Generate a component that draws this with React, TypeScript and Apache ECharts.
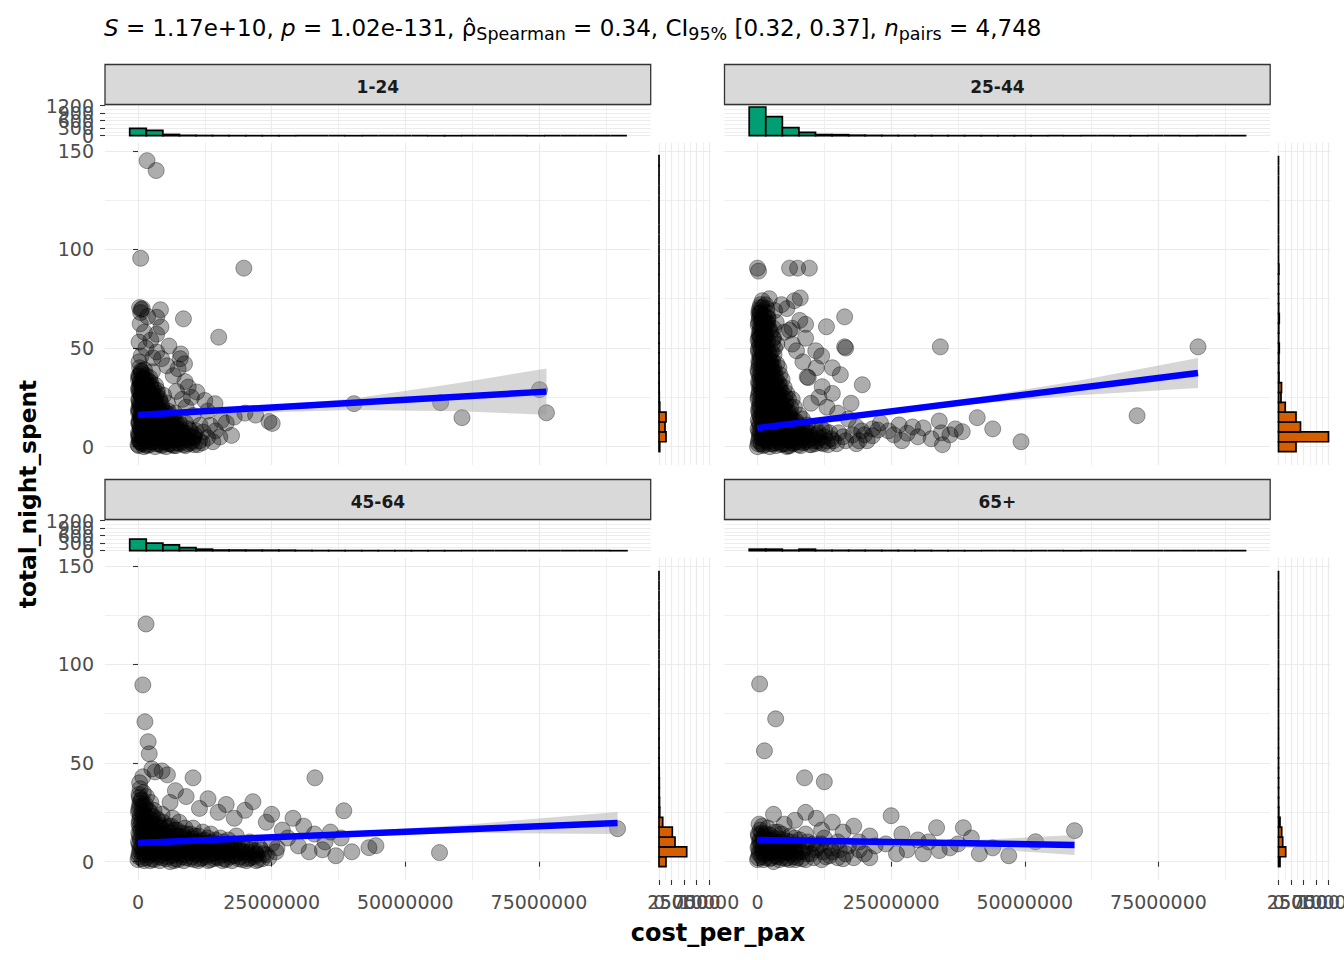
import React, { useEffect, useRef } from 'react';
import * as echarts from 'echarts';

// ---------------- data ----------------
const panelNames = ['1-24', '25-44', '45-64', '65+'];

const xMajor = [0, 25000000, 50000000, 75000000];
const xMinor = [12500000, 37500000, 62500000, 87500000];
const yMajor = [0, 50, 100, 150];
const yMinor = [25, 75, 125];
const xsideMajor = [0, 300, 600, 900, 1200];
const xsideMinor = [150, 450, 750, 1050];
const ysideMajor = [0, 2500, 5000, 7500, 10000];
const ysideMinor = [1250, 3750, 6250, 8750];

// histogram bins (cost in millions, nights in units)
const xBinStart = -1.55;
const xBinWidth = 3.1;
const yBinStart = -2.5;
const yBinWidth = 5;

// points: [cost_per_pax in millions, total_night_spent]
const pts124 = [
  [1.7, 145], [3.4, 140], [0.5, 95.5], [19.8, 90.5],
  [0.3, 70.5], [0.6, 69.5], [0.8, 70], [0.5, 68], [4.2, 69.4], [8.5, 64.8], [3.5, 65.6], [1.8, 66], [0.4, 62.3], [4.3, 60.7], [3.5, 57], [1.2, 58], [15.1, 55.5], [0.2, 53], [2.4, 54], [3.5, 48], [1.5, 50], [5.8, 51], [8, 47], [7.9, 44.6], [4.4, 44.6], [8.7, 42], [5.4, 41], [7.5, 39.5], [2.8, 45], [0.6, 46],
  [9.4, 30.2], [11, 27.7], [12.5, 23.4], [14.4, 21.8], [10.3, 15.8], [11.6, 10.8], [13.5, 10.8], [15.6, 13.3], [12.2, 7.4], [15.3, 4.9], [17.5, 5.7], [14.5, 8], [16.5, 12], [18, 15], [13, 18], [20, 17], [22, 16], [24.5, 12.8], [25.1, 11.8], [40.4, 21.8], [56.6, 22.3], [60.6, 14.7], [75.1, 28.9], [76.4, 17.2],
  [8.8, 33], [10, 25], [6.6, 36], [7.2, 28], [9, 20], [8.3, 24], [11.5, 3], [13, 4.5], [14, 2.5],
  [0, 1], [0.2, 4], [0.1, 7], [0.4, 10], [0.2, 13], [0.5, 16], [0.1, 19], [0.3, 22], [0.6, 25], [0.2, 28], [0.4, 31], [0.1, 34], [0.5, 37], [0.3, 40], [0.2, 43],
  [1.1, 0], [1.3, 3], [1.0, 6], [1.4, 9], [1.2, 12], [1.1, 15], [1.5, 18], [1.2, 21], [1.0, 24], [1.4, 27], [1.3, 30], [1.1, 33], [1.5, 36], [1.2, 39],
  [2.2, 1], [2.5, 4], [2.1, 7], [2.4, 10], [2.3, 13], [2.0, 16], [2.6, 19], [2.2, 22], [2.5, 25], [2.1, 28], [2.4, 31], [2.2, 35], [2.7, 38],
  [3.2, 0], [3.5, 3], [3.1, 6], [3.6, 9], [3.3, 12], [3.0, 15], [3.7, 18], [3.4, 21], [3.1, 24], [3.6, 27], [3.3, 31],
  [4.3, 1], [4.6, 4], [4.1, 7], [4.5, 10], [4.2, 13], [4.7, 16], [4.4, 20], [4.1, 23], [4.8, 26],
  [5.3, 0], [5.6, 3], [5.2, 6], [5.8, 9], [5.4, 12], [5.1, 15], [5.7, 18], [5.5, 22],
  [6.4, 1], [6.8, 4], [6.2, 7], [6.6, 10], [6.3, 14], [6.9, 17],
  [7.4, 2], [7.9, 5], [7.3, 8], [7.7, 12],
  [8.6, 1], [9.1, 4], [8.4, 7], [9.5, 9], [8.9, 12], [10.2, 3], [10.6, 6], [11.2, 1], [10.8, 8], [12, 2],
  [0.3, 2.5], [0.1, 5.5], [0.4, 8.5], [0.2, 11.5], [0.5, 14.5], [0.1, 17.5], [0.3, 20.5], [0.2, 23.5], [0.5, 26.5], [0.1, 29.5], [0.4, 32.5], [0.2, 35.5], [0.6, 38.5],
  [0.8, 1.5], [0.9, 4.5], [0.7, 7.5], [1.0, 10.5], [0.8, 13.5], [0.9, 16.5], [0.7, 19.5], [1.0, 22.5], [0.8, 25.5], [0.9, 28.5], [0.7, 31.5], [0.9, 34.5],
  [1.7, 0.5], [1.8, 3.5], [1.6, 6.5], [1.9, 9.5], [1.7, 12.5], [1.8, 15.5], [1.6, 18.5], [1.9, 21.5], [1.7, 24.5], [1.8, 27.5], [1.6, 30.5], [1.9, 33.5],
  [2.8, 2.5], [2.9, 5.5], [2.7, 8.5], [3.0, 11.5], [2.8, 14.5], [2.9, 17.5], [2.7, 20.5], [3.0, 23.5], [2.8, 26.5], [2.9, 29.5],
  [3.9, 1.5], [4.0, 4.5], [3.8, 7.5], [4.1, 10.5], [3.9, 13.5], [4.0, 16.5], [3.8, 19.5], [4.0, 24.5],
  [5.0, 2.5], [5.1, 5.5], [4.9, 8.5], [5.2, 11.5], [5.0, 14.5], [5.1, 17.5],
  [6.0, 1.5], [6.1, 4.5], [5.9, 7.5], [6.2, 10.5], [6.0, 13.5],
  [7.1, 0.5], [7.2, 3.5], [7.0, 6.5], [7.3, 9.5], [7.1, 12.5],
  [8.2, 2.5], [8.3, 5.5], [8.1, 8.5], [8.0, 11],
  [9.4, 1.5], [9.5, 5], [9.8, 8], [10.5, 1], [10.4, 4.5],
  [0.15, 0.5], [0.35, 3], [0.25, 6], [0.45, 9.5], [0.15, 12], [0.35, 15], [0.25, 18], [0.45, 21], [0.15, 24], [0.35, 27], [0.25, 30], [0.45, 33], [0.15, 36],
  [0.65, 2], [0.85, 5], [0.75, 8], [0.95, 11], [0.65, 14], [0.85, 17], [0.75, 20], [0.95, 23], [0.65, 26], [0.85, 29], [0.75, 32], [0.95, 35], [0.65, 38],
  [1.45, 1], [1.65, 4], [1.55, 7], [1.35, 10], [1.45, 13], [1.65, 16], [1.55, 19], [1.35, 22], [1.45, 25], [1.65, 28], [1.55, 31], [1.35, 34],
  [2.3, 2.5], [2.5, 5.5], [2.4, 8.5], [2.2, 11.5], [2.3, 14.5], [2.5, 17.5], [2.4, 20.5], [2.2, 23.5], [2.3, 26.5], [2.5, 29.5], [2.4, 32.5],
  [3.4, 1.5], [3.6, 4.5], [3.5, 7.5], [3.3, 10.5], [3.4, 13.5], [3.6, 16.5], [3.5, 19.5], [3.3, 22.5], [3.4, 25.5], [3.6, 28.5],
  [4.5, 0.5], [4.7, 2.5], [4.6, 5.5], [4.4, 8.5], [4.5, 11.5], [4.7, 14.5], [4.6, 17.5], [4.4, 21.5],
  [5.6, 1.5], [5.8, 4.5], [5.7, 7.5], [5.5, 10.5], [5.6, 13.5], [5.8, 16.5],
  [6.7, 0.5], [6.9, 3.5], [6.8, 6.5], [6.6, 9.5], [6.7, 12.5],
  [7.8, 1.5], [8.0, 4.5], [7.9, 7.5], [7.7, 10.5],
  [8.9, 0.5], [9.1, 3.5], [9.0, 6.5], [10, 2], [10.3, 5],
];

const pts2544 = [
  [0, 90.5], [6, 90.5], [7.5, 90.5], [9.7, 90.5], [0.2, 89],
  [2.2, 75], [8, 75.4], [4.5, 72], [1.5, 72], [5.5, 70], [6.9, 74], [3.2, 69],
  [12.9, 60.8], [16.3, 65.8], [0.5, 68], [2, 65], [3.5, 63], [6.5, 60], [9, 62], [1.9, 63], [7.9, 64], [6, 59], [3.6, 52],
  [7.3, 48.6], [10.9, 48.6], [12, 46], [16.3, 50.6], [16.5, 50], [34.2, 50.6], [82.4, 50.6],
  [15.5, 36.5], [19.6, 31.4], [12.1, 30.4], [9.5, 35], [11, 40], [8.5, 43], [14, 40], [6.5, 52], [9, 55], [3, 55], [5, 58], [1, 60], [0.5, 56], [2.5, 58], [9.3, 35.3],
  [71, 15.7], [49.3, 2.5], [41.1, 14.7], [38.3, 7.6], [34.6, 1], [34.4, 7], [34, 13], [31, 9.5], [28, 6.8], [25.5, 6], [22.5, 8.4], [20, 6], [21.5, 9], [24.5, 8], [26.5, 11], [30, 5], [32.5, 4], [36, 6], [37, 9], [29, 10], [23, 12], [18.5, 10], [17, 14], [19, 3], [16, 5], [27, 3], [44, 9],
  [13, 20], [15, 17], [17.5, 22], [11.5, 25], [14, 27], [10, 22],
  [0, 0], [0.2, 3], [0.4, 6], [0.1, 9], [0.3, 12], [0.5, 15], [0.2, 18], [0.4, 21], [0.1, 24], [0.3, 27], [0.5, 30], [0.2, 33], [0.4, 36], [0.1, 39], [0.3, 42], [0.5, 45], [0.2, 48], [0.4, 51], [0.1, 54], [0.3, 57], [0.5, 60], [0.2, 63], [0.4, 66],
  [1.2, 1], [1.4, 4], [1.1, 7], [1.5, 10], [1.3, 13], [1.0, 16], [1.4, 19], [1.2, 22], [1.5, 25], [1.1, 28], [1.3, 31], [1.0, 34], [1.4, 37], [1.2, 40], [1.5, 43], [1.1, 46], [1.3, 49], [1.0, 52], [1.4, 55],
  [2.3, 0], [2.6, 3], [2.1, 6], [2.5, 9], [2.2, 12], [2.7, 15], [2.4, 18], [2.1, 21], [2.6, 24], [2.3, 27], [2.0, 30], [2.5, 33], [2.2, 36], [2.7, 39], [2.4, 42], [2.1, 45], [2.6, 48],
  [3.3, 2], [3.6, 5], [3.1, 8], [3.5, 11], [3.2, 14], [3.7, 17], [3.4, 20], [3.1, 23], [3.6, 26], [3.3, 29], [3.0, 32], [3.5, 35], [3.2, 38], [3.6, 42],
  [4.4, 1], [4.7, 4], [4.2, 7], [4.6, 10], [4.3, 13], [4.8, 16], [4.5, 19], [4.1, 22], [4.7, 25], [4.4, 28], [4.2, 31], [4.6, 34],
  [5.5, 0], [5.8, 3], [5.3, 6], [5.7, 9], [5.4, 12], [5.9, 15], [5.6, 18], [5.2, 21], [5.8, 24], [5.5, 27],
  [6.6, 2], [6.9, 5], [6.4, 8], [6.8, 11], [6.5, 14], [6.2, 17], [6.9, 20], [6.5, 24],
  [7.7, 1], [7.4, 4], [7.9, 7], [7.5, 10], [7.2, 13], [7.8, 16],
  [8.5, 2], [9, 5], [8.7, 8], [9.3, 11], [8.4, 14], [9.8, 1], [9.6, 7],
  [10.5, 3], [11, 6], [11.8, 2], [12.5, 5], [13.2, 1], [10.8, 10], [12, 9], [13.5, 7], [14.2, 3],
  [0.3, 69], [0.6, 72], [1.2, 58], [1.5, 62], [0.8, 64], [2.2, 60], [1.8, 68], [0.9, 74], [2.8, 52], [3.2, 50],
  [0.7, 1.5], [0.8, 4.5], [0.6, 7.5], [0.9, 10.5], [0.7, 13.5], [0.8, 16.5], [0.6, 19.5], [0.9, 22.5], [0.7, 25.5], [0.8, 28.5], [0.6, 31.5], [0.9, 34.5], [0.7, 37.5], [0.8, 40.5], [0.6, 43.5], [0.9, 46.5], [0.7, 49.5], [0.8, 52.5], [0.6, 55.5], [0.9, 58.5], [0.7, 61.5], [0.8, 64.5], [0.6, 67.5], [0.9, 70.5],
  [1.8, 2.5], [1.9, 5.5], [1.7, 8.5], [2.0, 11.5], [1.8, 14.5], [1.9, 17.5], [1.7, 20.5], [2.0, 23.5], [1.8, 26.5], [1.9, 29.5], [1.7, 32.5], [2.0, 35.5], [1.8, 38.5], [1.9, 41.5], [1.7, 44.5], [2.0, 47.5], [1.8, 50.5], [1.9, 53.5], [1.7, 56.5], [2.0, 59.5], [1.8, 62.5], [1.9, 65.5], [1.7, 70],
  [2.9, 1.5], [3.0, 4.5], [2.8, 7.5], [3.1, 10.5], [2.9, 13.5], [3.0, 16.5], [2.8, 19.5], [3.1, 22.5], [2.9, 25.5], [3.0, 28.5], [2.8, 31.5], [3.1, 34.5], [2.9, 37.5], [3.0, 40.5], [2.8, 43.5], [3.1, 46.5], [2.9, 55], [3.0, 60],
  [4.0, 2.5], [4.1, 5.5], [3.9, 8.5], [4.2, 11.5], [4.0, 14.5], [4.1, 17.5], [3.9, 20.5], [4.2, 23.5], [4.0, 26.5], [4.1, 29.5], [3.9, 32.5], [4.2, 36.5], [4.0, 40],
  [5.1, 1.5], [5.2, 4.5], [5.0, 7.5], [5.3, 10.5], [5.1, 13.5], [5.2, 16.5], [5.0, 19.5], [5.3, 23], [5.1, 26], [5.0, 30],
  [6.1, 0.5], [6.2, 3.5], [6.0, 6.5], [6.3, 9.5], [6.1, 12.5], [6.0, 16], [6.2, 20],
  [7.2, 2.5], [7.3, 5.5], [7.1, 8.5], [7.3, 12], [8.1, 0.5], [8.2, 3.5], [8.0, 6.5], [8.2, 10], [9.1, 2.5], [9.2, 5.5], [9.0, 9],
  [10.1, 1], [10.2, 4.5], [11.2, 3], [11.4, 7], [12.3, 1.5], [12.6, 8], [13.8, 4], [14.8, 1.5], [15.2, 7], [16.5, 3], [17.8, 6], [18.5, 1.5], [19.5, 8], [20.5, 3], [21.5, 5.5],
  [0.15, 1.5], [0.35, 4.5], [0.25, 7.5], [0.45, 10.5], [0.15, 13.5], [0.35, 16.5], [0.25, 19.5], [0.45, 22.5], [0.15, 25.5], [0.35, 28.5], [0.25, 31.5], [0.45, 34.5], [0.15, 37.5], [0.35, 40.5], [0.25, 43.5], [0.45, 46.5], [0.15, 49.5], [0.35, 52.5], [0.25, 55.5], [0.45, 58.5], [0.15, 61.5], [0.35, 64.5], [0.25, 67.5], [0.45, 70.5],
  [1.05, 0.5], [1.25, 3.5], [1.15, 6.5], [1.35, 9.5], [1.05, 12.5], [1.25, 15.5], [1.15, 18.5], [1.35, 21.5], [1.05, 24.5], [1.25, 27.5], [1.15, 30.5], [1.35, 33.5], [1.05, 36.5], [1.25, 39.5], [1.15, 42.5], [1.35, 45.5], [1.05, 48.5], [1.25, 51.5], [1.15, 54.5], [1.35, 57.5], [1.05, 60.5], [1.25, 63.5], [1.15, 66.5],
  [2.35, 1.5], [2.55, 4.5], [2.45, 7.5], [2.25, 10.5], [2.35, 13.5], [2.55, 16.5], [2.45, 19.5], [2.25, 22.5], [2.35, 25.5], [2.55, 28.5], [2.45, 31.5], [2.25, 34.5], [2.35, 37.5], [2.55, 40.5], [2.45, 43.5], [2.25, 47],
  [3.45, 0.5], [3.65, 3.5], [3.55, 6.5], [3.35, 9.5], [3.45, 12.5], [3.65, 15.5], [3.55, 18.5], [3.35, 21.5], [3.45, 24.5], [3.65, 27.5], [3.55, 30.5], [3.35, 33.5],
  [4.55, 1.5], [4.75, 4.5], [4.65, 7.5], [4.45, 10.5], [4.55, 13.5], [4.75, 16.5], [4.65, 19.5], [4.45, 22.5],
  [5.65, 0.5], [5.85, 3.5], [5.75, 6.5], [5.55, 9.5], [5.65, 12.5],
  [6.75, 1.5], [6.95, 4.5], [6.85, 7.5], [7.9, 2.5], [8.1, 5.5], [9.5, 3.5], [10.8, 1.5], [11.6, 4.5], [13, 3],
];

const pts4564 = [
  [1.5, 120.5], [0.9, 89.6], [1.3, 70.9], [1.9, 60.8], [2.1, 54.7], [2.6, 47], [0.9, 43], [3.2, 45.5], [4.5, 46], [5.5, 44], [10.3, 42.5], [13.1, 31.9], [21.5, 30.4], [33.1, 42.5], [38.5, 25.8], [44.5, 8.1], [43.2, 7.1], [56.4, 4.6], [89.7, 16.7],
  [7, 36], [9, 33], [6, 30], [11.5, 27], [15, 25], [18, 22], [24, 20], [27, 16], [31, 18], [28, 12], [33, 14], [35, 10], [30, 8], [32, 5], [34.5, 6], [37, 3], [26, 7], [22, 4], [40, 5], [36, 15], [29, 22], [20, 26], [16.5, 29], [25, 24], [38, 12],
  [0, 1], [0.2, 4], [0.4, 7], [0.1, 10], [0.3, 13], [0.5, 16], [0.2, 19], [0.4, 22], [0.1, 25], [0.3, 28], [0.5, 31], [0.2, 34], [0.4, 37], [0.3, 40],
  [1.5, 2], [1.7, 5], [1.4, 8], [1.8, 11], [1.6, 14], [1.3, 17], [1.7, 20], [1.5, 23], [1.9, 26], [1.4, 29], [1.6, 33],
  [3, 1], [3.3, 4], [2.9, 7], [3.4, 10], [3.1, 13], [2.8, 16], [3.2, 19], [3.5, 22], [3, 26],
  [4.5, 2], [4.8, 5], [4.4, 8], [4.9, 11], [4.6, 14], [4.3, 17], [4.7, 20], [4.5, 24],
  [6, 0], [6.3, 3], [5.9, 6], [6.4, 9], [6.1, 12], [5.8, 15], [6.2, 18], [6.5, 22],
  [7.5, 1], [7.8, 4], [7.4, 7], [7.9, 10], [7.6, 13], [7.3, 16], [7.7, 20],
  [9, 2], [9.3, 5], [8.9, 8], [9.4, 11], [9.1, 14], [8.8, 17],
  [10.5, 1], [10.8, 4], [10.4, 7], [10.9, 10], [10.6, 13], [10.3, 17],
  [12, 2], [12.3, 5], [11.9, 8], [12.4, 11], [12.1, 15],
  [13.5, 1], [13.8, 4], [13.4, 7], [13.9, 10], [13.6, 14],
  [15, 2], [15.3, 5], [14.9, 8], [15.4, 12],
  [16.5, 1], [16.8, 4], [16.4, 8], [16.9, 11],
  [18, 3], [18.3, 6], [17.9, 9], [18.4, 13],
  [19.5, 1], [19.8, 5], [19.4, 9],
  [21, 2], [21.3, 6], [20.9, 10],
  [22.5, 1], [22.8, 7], [23.5, 4],
  [24.5, 2], [25, 9], [25.8, 5],
  [0.8, 1.5], [0.9, 4.5], [0.7, 7.5], [1.0, 10.5], [0.8, 13.5], [0.9, 16.5], [0.7, 19.5], [1.0, 22.5], [0.8, 25.5], [0.9, 28.5], [0.7, 31.5], [1.0, 35],
  [2.3, 0.5], [2.4, 3.5], [2.2, 6.5], [2.5, 9.5], [2.3, 12.5], [2.4, 15.5], [2.2, 18.5], [2.5, 21.5], [2.3, 25], [2.4, 30],
  [3.8, 2.5], [3.9, 5.5], [3.7, 8.5], [4.0, 11.5], [3.8, 14.5], [3.9, 17.5], [3.7, 21],
  [5.3, 1.5], [5.4, 4.5], [5.2, 7.5], [5.5, 10.5], [5.3, 13.5], [5.4, 17],
  [6.8, 0.5], [6.9, 3.5], [6.7, 6.5], [7.0, 9.5], [6.8, 12.5], [6.9, 16],
  [8.3, 2.5], [8.4, 5.5], [8.2, 8.5], [8.5, 11.5], [8.3, 14.5],
  [9.8, 1.5], [9.9, 4.5], [9.7, 7.5], [10.0, 10.5], [9.8, 14],
  [11.3, 0.5], [11.4, 3.5], [11.2, 6.5], [11.5, 9.5], [11.3, 13],
  [12.8, 2.5], [12.9, 5.5], [12.7, 8.5], [13.0, 12],
  [14.3, 1.5], [14.4, 4.5], [14.2, 7.5], [14.5, 11],
  [15.8, 0.5], [15.9, 3.5], [15.7, 6.5], [16.0, 10],
  [17.3, 2.5], [17.4, 5.5], [17.2, 8.5],
  [18.8, 1.5], [18.9, 4.5], [18.7, 7.5],
  [20.3, 0.5], [20.4, 3.5], [20.2, 7],
  [21.8, 2.5], [21.9, 5.5], [23.3, 1.5], [23, 6], [24, 3.5],
  [0.15, 2.5], [0.35, 5.5], [0.25, 8.5], [0.45, 11.5], [0.15, 14.5], [0.35, 17.5], [0.25, 20.5], [0.45, 23.5], [0.15, 26.5], [0.35, 29.5], [0.25, 32.5],
  [1.15, 0.5], [1.25, 3.5], [1.05, 6.5], [1.35, 9.5], [1.15, 12.5], [1.25, 15.5], [1.05, 18.5], [1.35, 21.5], [1.15, 24.5], [1.25, 28],
  [2.6, 1.5], [2.7, 4.5], [2.5, 7.5], [2.8, 10.5], [2.6, 13.5], [2.7, 16.5], [2.5, 19.5], [2.7, 23],
  [4.1, 0.5], [4.2, 3.5], [4.0, 6.5], [4.3, 9.5], [4.1, 12.5], [4.2, 15.5], [4.0, 18.5],
  [5.6, 2.5], [5.7, 5.5], [5.5, 8.5], [5.8, 11.5], [5.6, 14.5], [5.7, 18],
  [7.1, 1.5], [7.2, 4.5], [7.0, 7.5], [7.3, 10.5], [7.1, 13.5],
  [8.6, 0.5], [8.7, 3.5], [8.5, 6.5], [8.8, 9.5], [8.6, 12.5],
  [10.1, 2.5], [10.2, 5.5], [10.0, 8.5], [10.3, 11.5],
  [11.6, 1.5], [11.7, 4.5], [11.5, 7.5], [11.8, 10.5],
  [13.1, 0.5], [13.2, 3.5], [13.0, 6.5], [13.3, 9.5],
  [14.6, 2.5], [14.7, 5.5], [14.5, 8.5],
  [16.1, 1.5], [16.2, 4.5], [16.0, 7.5],
  [17.6, 0.5], [17.7, 3.5], [17.5, 6.5],
  [19.1, 2.5], [19.2, 5.5], [20.6, 1.5], [20.7, 4.5], [22.1, 0.5], [22.2, 3.5],
];

const pts65 = [
  [0.4, 90.1], [3.4, 72.4], [1.3, 56.2], [8.8, 42.5], [12.5, 40.5], [25, 23.3], [33.5, 17.2], [38.5, 17.2], [34, 5.6], [41.5, 4], [52, 10.1], [59.3, 15.7], [37.5, 9], [36, 7], [30, 11], [28, 6], [26, 4], [24, 9], [21, 13], [18, 18], [16, 15], [14, 20], [11, 22], [9, 25], [7, 21], [5, 19], [3, 24], [20, 4], [22, 8], [31, 4], [44, 7], [47, 3], [19, 10], [12, 16], [27, 14], [32, 10], [40, 12],
  [0, 1], [0.3, 4], [0.1, 7], [0.4, 10], [0.2, 13], [0.5, 16], [0.3, 19],
  [1.5, 2], [1.8, 5], [1.4, 8], [1.7, 11], [1.5, 14], [1.9, 17],
  [3, 0], [3.3, 3], [2.9, 6], [3.4, 9], [3.1, 12], [3.2, 15],
  [4.5, 2], [4.8, 5], [4.4, 8], [4.7, 11], [4.5, 14],
  [6, 1], [6.3, 4], [5.9, 7], [6.4, 10], [6.1, 13],
  [7.5, 2], [7.8, 5], [7.4, 8], [7.9, 11],
  [9, 1], [9.3, 4], [8.9, 7], [9.4, 10], [9, 14],
  [10.5, 2], [10.8, 6], [10.4, 9],
  [12, 1], [12.3, 5], [11.9, 9], [12.5, 12],
  [13.5, 3], [13.8, 7], [15, 2], [15.3, 6], [15, 10], [16.5, 4], [17, 8], [18, 2],
  [0.8, 2.5], [0.9, 5.5], [0.7, 8.5], [1.0, 11.5], [0.8, 14.5], [0.9, 18],
  [2.3, 1.5], [2.4, 4.5], [2.2, 7.5], [2.5, 10.5], [2.3, 13.5],
  [3.8, 2.5], [3.9, 5.5], [3.7, 8.5], [4.0, 11.5], [3.8, 15],
  [5.3, 1.5], [5.4, 4.5], [5.2, 7.5], [5.5, 10.5],
  [6.8, 2.5], [6.9, 5.5], [6.7, 8.5], [7.0, 12],
  [8.3, 1.5], [8.4, 5], [10, 4], [11, 7], [12.8, 2.5], [14, 5], [16, 1.5], [19, 6], [21, 2],
  [0.15, 2], [0.35, 5], [0.25, 8], [0.45, 11], [0.15, 14],
  [1.15, 1], [1.25, 4], [1.05, 7], [1.35, 10], [1.15, 13],
  [2.6, 2], [2.7, 5], [2.5, 8], [2.8, 11],
  [4.1, 1], [4.2, 4], [4.0, 7], [4.3, 10],
  [5.6, 2], [5.7, 5], [5.5, 8],
  [7.1, 1], [7.2, 4], [7.0, 7],
];

// regression fits: [x (millions), y]
const fit124 = [[0, 16.0], [76.4, 27.9]];
const fit2544 = [[0, 9.4], [82.4, 37.3]];
const fit4564 = [[0, 9.5], [89.7, 19.6]];
const fit65 = [[0, 11.0], [59.3, 8.5]];

// confidence bands
const ci124X = [0, 20, 40, 60, 76.4];
const ci124Lo = [15.0, 17.0, 18.6, 17.9, 16.2];
const ci124Hi = [17.0, 19.6, 24.3, 32.3, 39.6];
const ci2544X = [0, 20, 40, 60, 82.4];
const ci2544Lo = [8.6, 15.2, 21.5, 26.0, 29.7];
const ci2544Hi = [10.2, 17.2, 24.5, 33.4, 44.9];
const ci4564X = [0, 30, 60, 89.7];
const ci4564Lo = [9.0, 12.2, 14.5, 14.0];
const ci4564Hi = [10.0, 13.5, 18.5, 25.2];
const ci65X = [0, 20, 40, 59.3];
const ci65Lo = [10.3, 9.4, 7.0, 3.4];
const ci65Hi = [11.7, 11.0, 10.8, 13.5];

// marginal histogram counts
const xside124 = [296, 215, 50, 14, 8, 5, 3, 2, 1, 1, 0, 0, 0, 1, 0, 0, 0, 0, 1, 1, 0, 0, 0, 0, 1, 0, 0, 0, 0, 0];
const xside2544 = [1148, 760, 320, 136, 45, 40, 20, 12, 8, 6, 5, 4, 3, 2, 2, 1, 1, 1, 0, 1, 0, 0, 1, 1, 0, 0, 1, 0, 0, 0];
const xside4564 = [460, 300, 232, 124, 60, 25, 25, 22, 20, 18, 8, 6, 5, 4, 3, 2, 2, 1, 1, 1, 0, 0, 0, 0, 0, 0, 0, 0, 0, 1];
const xside65 = [60, 60, 20, 60, 15, 15, 15, 12, 10, 8, 8, 3, 2, 1, 0, 0, 1, 0, 0, 1, 0, 0, 0, 0, 0, 0, 0, 0, 0, 0];

const yside124 = [150, 1400, 1200, 1400, 150, 50, 30, 20, 10, 10, 10, 5, 5, 5, 5, 0, 0, 0, 5, 0, 0, 0, 0, 0, 0, 0, 0, 0, 5, 5];
const yside2544 = [3500, 10000, 4400, 3500, 1350, 500, 600, 100, 60, 80, 150, 40, 60, 150, 40, 20, 10, 20, 80, 0, 0, 0, 0, 0, 0, 0, 0, 0, 0, 0];
const yside4564 = [1400, 5540, 3200, 2660, 740, 150, 100, 60, 60, 40, 20, 10, 10, 5, 10, 0, 0, 5, 5, 0, 0, 0, 0, 0, 5, 0, 0, 0, 0, 0];
const yside65 = [300, 1440, 840, 640, 300, 60, 30, 20, 20, 10, 10, 5, 0, 5, 0, 0, 0, 0, 5, 0, 0, 0, 0, 0, 0, 0, 0, 0, 0, 0];

// ---------------- layout / style ----------------
const FONT = '"DejaVu Sans", "Liberation Sans", Arial, sans-serif';
const COL_LEFT = [105, 724.5];
const ROW_MAIN_TOP = [142.7, 557.7];
const MAIN_W = 545.7;
const MAIN_H = 322.3;
const ROW_XS_TOP = [105.5, 520.5];
const XS_H = 32;
const COL_YS_LEFT = [657.3, 1276.8];
const YS_W = 53.4;
const ROW_STRIP_TOP = [64.5, 479.5];
const STRIP_H = 40;

const X_MIN = -6.17e6, X_MAX = 95.9e6;
const Y_MIN = -9.3, Y_MAX = 154.1;
const XS_MIN = -72, XS_MAX = 1208;
const YS_MIN = -340, YS_MAX = 10340;

const GREEN = '#009E73';
const ORANGE = '#D55E00';
const TICK_STYLE = { color: '#333333', width: 1.1 };

function labelStyle(dim: 'x' | 'y') {
  return {
    color: '#4d4d4d', fontSize: 19, fontFamily: FONT, margin: dim === 'x' ? 12 : 11,
    hideOverlap: false, showMinLabel: true, showMaxLabel: true, interval: 0,
    formatter: (v: number) => String(v),
  };
}

// returns [majorAxis, minorAxis] plus optional one-label axes (for crowded labels)
function axisSet(gridIndex: number, dim: 'x' | 'y', min: number, max: number, major: number[], minor: number[], showLabels: boolean, splitLabels: boolean) {
  const position = dim === 'x' ? 'bottom' : 'left';
  const majorAxis: any = {
    type: 'value', gridIndex, min, max, position,
    axisLine: { show: false },
    axisTick: { show: showLabels && !splitLabels, length: 5, lineStyle: TICK_STYLE, customValues: major },
    axisLabel: { show: showLabels && !splitLabels, customValues: major, ...labelStyle(dim) },
    splitLine: { show: true, lineStyle: { color: '#ebebeb', width: 1.2 } },
    minorTick: { show: false }, minorSplitLine: { show: false },
    silent: true,
  };
  const minorAxis: any = {
    type: 'value', gridIndex, min, max,
    position: dim === 'x' ? 'top' : 'right',
    axisLine: { show: false },
    axisTick: { show: false, customValues: minor },
    axisLabel: { show: false, customValues: minor },
    splitLine: { show: true, lineStyle: { color: '#ebebeb', width: 0.8 } },
    silent: true,
  };
  const extra: any[] = [];
  if (showLabels && splitLabels) {
    major.forEach((v) => {
      extra.push({
        type: 'value', gridIndex, min, max, position, offset: 0,
        axisLine: { show: false },
        axisTick: { show: true, length: 5, lineStyle: TICK_STYLE, customValues: [v] },
        axisLabel: { show: true, customValues: [v], ...labelStyle(dim) },
        splitLine: { show: false },
        silent: true,
      });
    });
  }
  return { pair: [majorAxis, minorAxis], extra };
}

function rectPoly(x0: number, y0: number, x1: number, y1: number) {
  return [[x0, y0], [x1, y0], [x1, y1], [x0, y1]];
}

function buildOption() {
  const panels = [
    { pts: pts124, fit: fit124, ciX: ci124X, ciLo: ci124Lo, ciHi: ci124Hi, xs: xside124, ys: yside124 },
    { pts: pts2544, fit: fit2544, ciX: ci2544X, ciLo: ci2544Lo, ciHi: ci2544Hi, xs: xside2544, ys: yside2544 },
    { pts: pts4564, fit: fit4564, ciX: ci4564X, ciLo: ci4564Lo, ciHi: ci4564Hi, xs: xside4564, ys: yside4564 },
    { pts: pts65, fit: fit65, ciX: ci65X, ciLo: ci65Lo, ciHi: ci65Hi, xs: xside65, ys: yside65 },
  ];

  const grids: any[] = [];
  const xAxes: any[] = [];
  const yAxes: any[] = [];
  const xExtra: any[] = [];
  const yExtra: any[] = [];
  const series: any[] = [];
  const graphics: any[] = [];

  const addGrid = (left: number, top: number, width: number, height: number) => {
    grids.push({ left, top, width, height, containLabel: false, outerBoundsMode: 'none', show: false });
    return grids.length - 1;
  };
  const addAxes = (g: number, xs: any, ys: any) => {
    xAxes.push(...xs.pair); xExtra.push(...xs.extra);
    yAxes.push(...ys.pair); yExtra.push(...ys.extra);
  };

  for (let p = 0; p < 4; p++) {
    const r = p >> 1, c = p & 1;
    const g = addGrid(COL_LEFT[c], ROW_MAIN_TOP[r], MAIN_W, MAIN_H);
    addAxes(g,
      axisSet(g, 'x', X_MIN, X_MAX, xMajor, xMinor, r === 1, false),
      axisSet(g, 'y', Y_MIN, Y_MAX, yMajor, yMinor, c === 0, false));
  }
  for (let p = 0; p < 4; p++) {
    const r = p >> 1, c = p & 1;
    const g = addGrid(COL_LEFT[c], ROW_XS_TOP[r], MAIN_W, XS_H);
    addAxes(g,
      axisSet(g, 'x', X_MIN, X_MAX, xMajor, xMinor, false, false),
      axisSet(g, 'y', XS_MIN, XS_MAX, xsideMajor, xsideMinor, c === 0, true));
  }
  for (let p = 0; p < 4; p++) {
    const r = p >> 1, c = p & 1;
    const g = addGrid(COL_YS_LEFT[c], ROW_MAIN_TOP[r], YS_W, MAIN_H);
    addAxes(g,
      axisSet(g, 'x', YS_MIN, YS_MAX, ysideMajor, ysideMinor, r === 1, true),
      axisSet(g, 'y', Y_MIN, Y_MAX, yMajor, yMinor, false, false));
  }

  panels.forEach((pd, p) => {
    const ax = 2 * p;
    series.push({
      type: 'scatter', xAxisIndex: ax, yAxisIndex: ax, z: 2, silent: true,
      symbol: 'circle', symbolSize: 16,
      itemStyle: { color: 'rgba(0,0,0,0.4)', borderColor: 'rgba(0,0,0,0.55)', borderWidth: 0.8 },
      data: pd.pts.map(([x, y]) => [x * 1e6, y]),
    });
    const ciX = pd.ciX, ciLo = pd.ciLo, ciHi = pd.ciHi;
    series.push({
      type: 'custom', xAxisIndex: ax, yAxisIndex: ax, z: 3, silent: true,
      encode: { x: 0, y: 1 },
      data: [[ciX[0] * 1e6, ciLo[0]]],
      renderItem: (_params: any, api: any) => {
        const upper = ciX.map((x, i) => api.coord([x * 1e6, ciHi[i]]));
        const lower = ciX.map((x, i) => api.coord([x * 1e6, ciLo[i]])).reverse();
        return {
          type: 'polygon',
          shape: { points: upper.concat(lower) },
          style: { fill: 'rgba(153,153,153,0.4)', stroke: 'none' },
        };
      },
    });
    series.push({
      type: 'line', xAxisIndex: ax, yAxisIndex: ax, z: 4, silent: true,
      symbol: 'none', lineStyle: { color: '#0000ff', width: 6.5 },
      data: pd.fit.map(([x, y]) => [x * 1e6, y]),
    });

    const axX = 2 * (4 + p);
    series.push({
      type: 'custom', xAxisIndex: axX, yAxisIndex: axX, z: 2, silent: true,
      encode: { x: [0, 1], y: 2 },
      data: pd.xs.map((cnt, i) => [(xBinStart + i * xBinWidth) * 1e6, (xBinStart + (i + 1) * xBinWidth) * 1e6, cnt]),
      renderItem: (_params: any, api: any) => {
        const a = api.coord([api.value(0), 0]);
        const b = api.coord([api.value(1), api.value(2)]);
        return {
          type: 'polygon',
          shape: { points: rectPoly(a[0], a[1], b[0], b[1]) },
          style: { fill: GREEN, stroke: '#000000', lineWidth: 1.7 },
        };
      },
    });

    const axY = 2 * (8 + p);
    series.push({
      type: 'custom', xAxisIndex: axY, yAxisIndex: axY, z: 2, silent: true,
      encode: { y: [0, 1], x: 2 },
      data: pd.ys.map((cnt, i) => [yBinStart + i * yBinWidth, yBinStart + (i + 1) * yBinWidth, cnt]),
      renderItem: (_params: any, api: any) => {
        const a = api.coord([0, api.value(0)]);
        const b = api.coord([api.value(2), api.value(1)]);
        return {
          type: 'polygon',
          shape: { points: rectPoly(a[0], a[1], b[0], b[1]) },
          style: { fill: ORANGE, stroke: '#000000', lineWidth: 1.7 },
        };
      },
    });

    const r = p >> 1, c = p & 1;
    graphics.push({
      type: 'rect', silent: true, z: 10,
      shape: { x: COL_LEFT[c], y: ROW_STRIP_TOP[r], width: MAIN_W, height: STRIP_H },
      style: { fill: '#d9d9d9', stroke: '#333333', lineWidth: 1.3 },
    });
    graphics.push({
      type: 'text', silent: true, z: 11,
      x: COL_LEFT[c] + MAIN_W / 2, y: ROW_STRIP_TOP[r] + STRIP_H / 2 + 2,
      style: {
        text: panelNames[p], fill: '#1a1a1a', fontSize: 17, fontWeight: 'bold', fontFamily: FONT,
        align: 'center', verticalAlign: 'middle',
      },
    });
  });

  graphics.push({
    type: 'text', silent: true, z: 11, x: 104, y: 13,
    style: {
      text: '{i|S} = 1.17e+10, {i|p} = 1.02e-131, ρ̂{sub|Spearman} = 0.34, CI{sub|95%} [0.32, 0.37], {i|n}{sub|pairs} = 4,748',
      fill: '#000000', fontSize: 23, fontFamily: FONT, lineHeight: 30,
      align: 'left', verticalAlign: 'top',
      rich: {
        i: { fontStyle: 'italic', fontSize: 23, fontFamily: FONT, lineHeight: 30, fill: '#000000' },
        sub: { fontSize: 17.5, fontFamily: FONT, lineHeight: 30, verticalAlign: 'bottom', fill: '#000000' },
      },
    },
  });
  graphics.push({
    type: 'text', silent: true, z: 11, x: 718, y: 933,
    style: { text: 'cost_per_pax', fill: '#000000', fontSize: 24, fontWeight: 'bold', fontFamily: FONT, align: 'center', verticalAlign: 'middle' },
  });
  graphics.push({
    type: 'text', silent: true, z: 11, x: 27, y: 494, rotation: Math.PI / 2,
    style: { text: 'total_night_spent', fill: '#000000', fontSize: 23.3, fontWeight: 'bold', fontFamily: FONT, align: 'center', verticalAlign: 'middle' },
  });

  return {
    animation: false,
    backgroundColor: '#ffffff',
    textStyle: { fontFamily: FONT },
    grid: grids,
    xAxis: xAxes.concat(xExtra),
    yAxis: yAxes.concat(yExtra),
    series,
    graphic: graphics,
  };
}

export default function App() {
  const ref = useRef<HTMLDivElement>(null);
  useEffect(() => {
    if (!ref.current) return;
    const chart = echarts.init(ref.current, null, { renderer: 'svg' });
    chart.setOption(buildOption());
    return () => chart.dispose();
  }, []);
  return (
    <div
      ref={ref}
      style={{ position: 'fixed', left: 0, top: 0, width: 1344, height: 960, background: '#ffffff' }}
    />
  );
}
